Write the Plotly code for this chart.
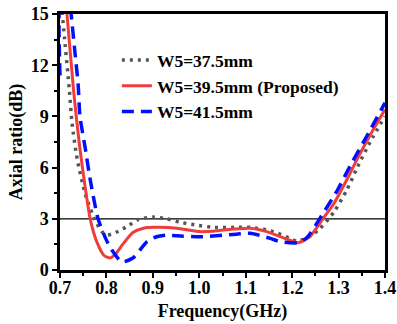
import plotly.graph_objects as go

# Axial ratio vs frequency for three W5 values
freq_375 = [0.700, 0.705, 0.710, 0.720, 0.726, 0.737, 0.755, 0.775, 0.790, 0.802, 0.820,
            0.845, 0.868, 0.900, 0.930, 0.958, 0.990, 1.030, 1.080, 1.110, 1.145,
            1.170, 1.195, 1.210, 1.230, 1.257, 1.290, 1.318, 1.340, 1.368, 1.400]
ar_375 = [16.5, 15.0, 13.5, 10.6, 8.6, 6.5, 4.4, 2.95, 2.25, 2.05, 2.2,
          2.55, 2.95, 3.1, 3.0, 2.8, 2.65, 2.5, 2.5, 2.5, 2.35,
          2.15, 1.85, 1.7, 1.85, 2.35, 3.4, 4.7, 6.0, 7.5, 9.0]

freq_395 = [0.712, 0.715, 0.730, 0.742, 0.754, 0.765, 0.780, 0.795, 0.808, 0.820,
            0.835, 0.857, 0.880, 0.905, 0.952, 1.000, 1.040, 1.075, 1.110, 1.145,
            1.180, 1.213, 1.238, 1.265, 1.290, 1.318, 1.340, 1.370, 1.400]
ar_395 = [16.0, 15.0, 10.3, 7.3, 4.9, 3.0, 1.6, 0.85, 0.7, 0.95,
          1.5, 2.2, 2.45, 2.5, 2.45, 2.25, 2.3, 2.4, 2.45, 2.25,
          1.9, 1.6, 1.95, 2.95, 3.9, 5.3, 6.5, 8.0, 9.4]

freq_415 = [0.700, 0.703, 0.718, 0.724, 0.732, 0.739, 0.743, 0.754, 0.765, 0.782,
            0.800, 0.811, 0.833, 0.857, 0.887, 0.908, 0.930, 0.952, 1.008, 1.080,
            1.110, 1.153, 1.175, 1.213, 1.232, 1.265, 1.298, 1.325, 1.368, 1.400]
ar_415 = [11.4, 16.5, 16.5, 15.0, 12.8, 10.9, 9.0, 7.2, 5.3, 3.0,
          1.75, 1.2, 0.47, 0.7, 1.65, 1.95, 2.05, 2.0, 1.95, 2.1,
          2.15, 1.85, 1.65, 1.6, 1.9, 3.25, 4.7, 6.1, 8.2, 9.8]

x_ticks = [0.7, 0.8, 0.9, 1.0, 1.1, 1.2, 1.3, 1.4]
y_ticks = [0, 3, 6, 9, 12, 15]
ar_limit = 3

FONT = "Liberation Serif, Times New Roman, serif"

fig = go.Figure()
fig.add_trace(go.Scatter(
    x=freq_375, y=ar_375, mode="lines", name="W5=37.5mm",
    line=dict(color="#555555", width=3.5, dash="3px,5px", shape="spline", smoothing=0.6),
))
fig.add_trace(go.Scatter(
    x=freq_395, y=ar_395, mode="lines", name="W5=39.5mm (Proposed)",
    line=dict(color="#f03c3c", width=3, shape="spline", smoothing=0.6),
))
fig.add_trace(go.Scatter(
    x=freq_415, y=ar_415, mode="lines", name="W5=41.5mm",
    line=dict(color="#0010ff", width=3.5, dash="12px,7px", shape="spline", smoothing=0.6),
))

# 3 dB axial-ratio reference line
fig.add_shape(type="line", xref="x", yref="y", x0=x_ticks[0], x1=x_ticks[-1],
              y0=ar_limit, y1=ar_limit, line=dict(color="black", width=1.3), layer="below")

axis_common = dict(
    showgrid=False, zeroline=False, showline=True, linecolor="black", linewidth=2.5,
    mirror=True, ticks="outside", ticklen=5, tickwidth=2, tickcolor="black",
    tickfont=dict(family=FONT, size=18, color="black", weight="bold"),
    automargin=False,
)

fig.update_xaxes(
    range=[0.7, 1.4], tickvals=x_ticks, ticktext=[f"{v:.1f}" for v in x_ticks],
    minor=dict(dtick=0.05, ticks="outside", ticklen=3, tickwidth=1.5, tickcolor="black"),
    ticklabelstandoff=-5,
    title=dict(text="Frequency(GHz)", font=dict(family=FONT, size=18, color="black", weight="bold"),
               standoff=8),
    **axis_common,
)
fig.update_yaxes(
    range=[0, 15], tickvals=y_ticks,
    minor=dict(dtick=1.5, ticks="outside", ticklen=3, tickwidth=1.5, tickcolor="black"),
    title=dict(text="Axial ratio(dB)", font=dict(family=FONT, size=18, color="black", weight="bold"),
               standoff=4),
    **axis_common,
)

fig.update_layout(
    width=397, height=324,
    margin=dict(l=60, r=12, t=14, b=54),
    paper_bgcolor="white", plot_bgcolor="white",
    showlegend=True,
    legend=dict(
        x=0.175, y=0.89, xanchor="left", yanchor="top",
        bgcolor="rgba(0,0,0,0)", borderwidth=0,
        font=dict(family=FONT, size=17.5, color="black", weight="bold"),
        tracegroupgap=0, itemwidth=30,
    ),
)

fig.write_html("out.html")
